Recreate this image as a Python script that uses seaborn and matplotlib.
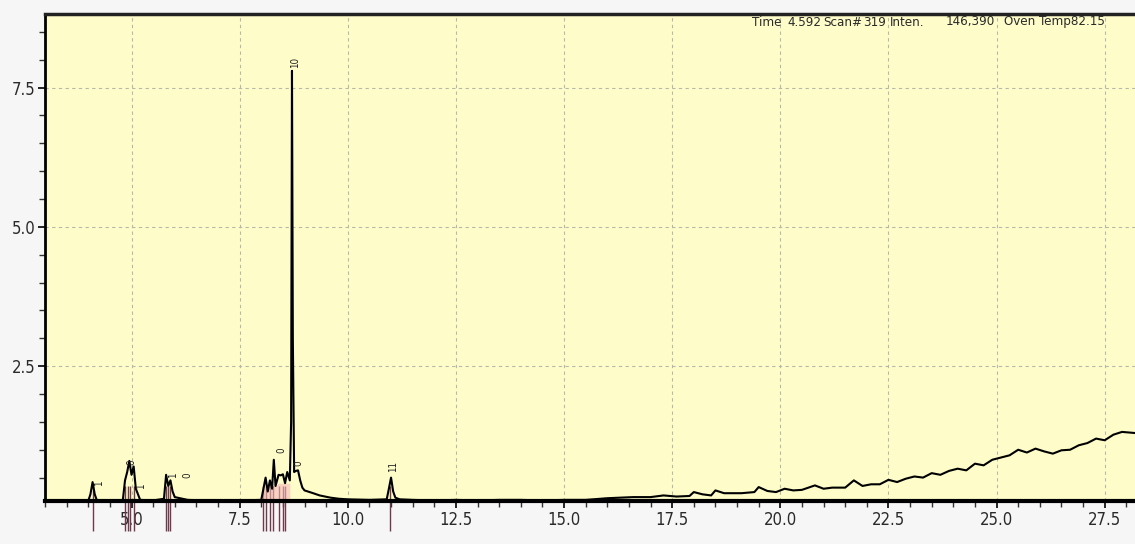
import matplotlib
matplotlib.use("Agg")
import matplotlib.pyplot as plt
import seaborn as sns
import pandas as pd
from matplotlib.ticker import MultipleLocator, FixedLocator

# ---------------- data ----------------
time_min = [3.0, 3.5, 4.0, 4.05, 4.1, 4.15, 4.2, 4.5, 4.8, 4.85, 4.9, 4.95, 5.0, 5.05, 5.1,
            5.15, 5.2, 5.5, 5.75, 5.8, 5.85, 5.9, 5.95, 6.0, 6.3, 7.0, 8.0, 8.05, 8.1, 8.15,
            8.2, 8.25, 8.29, 8.33, 8.4, 8.45, 8.5, 8.55, 8.6, 8.66, 8.69, 8.71, 8.73, 8.76,
            8.8, 8.85, 8.9, 8.95, 9.0, 9.2, 9.35, 9.6, 9.8, 10.0, 10.5, 10.9, 10.95, 11.0,
            11.05, 11.1, 11.2, 11.5, 12.0, 12.5, 13.0, 13.5, 14.0, 14.5, 15.0, 15.5, 16.0,
            16.3, 16.6, 17.0, 17.3, 17.6, 17.9, 18.0, 18.2, 18.4, 18.5, 18.7, 18.9, 19.1,
            19.4, 19.5, 19.7, 19.9, 20.1, 20.3, 20.5, 20.8, 21.0, 21.2, 21.5, 21.7, 21.9,
            22.1, 22.3, 22.5, 22.7, 22.9, 23.1, 23.3, 23.5, 23.7, 23.9, 24.1, 24.3, 24.5,
            24.7, 24.9, 25.1, 25.3, 25.5, 25.7, 25.9, 26.1, 26.3, 26.5, 26.7, 26.9, 27.1,
            27.3, 27.5, 27.7, 27.9, 28.2]
intensity = [0.08, 0.08, 0.08, 0.2, 0.42, 0.2, 0.09, 0.08, 0.1, 0.45, 0.6, 0.8, 0.55, 0.7, 0.3,
             0.2, 0.1, 0.09, 0.12, 0.55, 0.35, 0.45, 0.25, 0.15, 0.1, 0.08, 0.1, 0.3, 0.5, 0.25,
             0.45, 0.3, 0.82, 0.35, 0.55, 0.54, 0.56, 0.4, 0.6, 0.45, 1.5, 7.8, 3.0, 0.6,
             0.62, 0.63, 0.45, 0.32, 0.27, 0.22, 0.18, 0.14, 0.12, 0.11, 0.1, 0.11, 0.3, 0.5,
             0.25, 0.14, 0.11, 0.1, 0.09, 0.1, 0.09, 0.1, 0.1, 0.09, 0.1, 0.1, 0.13,
             0.14, 0.15, 0.15, 0.18, 0.16, 0.17, 0.24, 0.2, 0.18, 0.27, 0.22, 0.22, 0.22,
             0.24, 0.33, 0.26, 0.24, 0.3, 0.27, 0.28, 0.36, 0.3, 0.32, 0.32, 0.45, 0.35,
             0.38, 0.38, 0.46, 0.42, 0.48, 0.52, 0.5, 0.58, 0.55, 0.62, 0.66, 0.63, 0.75,
             0.72, 0.82, 0.86, 0.9, 1.0, 0.95, 1.02, 0.97, 0.93, 0.99, 1.0, 1.08, 1.12,
             1.2, 1.17, 1.27, 1.32, 1.3]

# peak label marks (rotated peak numbers) and integration drop marks
label_times = [4.26, 5.0, 5.23, 5.95, 6.3, 8.47, 8.85, 8.78, 11.05]
label_heights = [0.35, 0.72, 0.3, 0.5, 0.5, 0.95, 0.7, 7.85, 0.6]
label_texts = ["1", "0", "1", "1", "0", "0", "0", "10", "11"]
drop_times = [4.1, 4.85, 4.92, 4.97, 5.05, 5.8, 5.85, 5.9, 8.05, 8.1, 8.2, 8.28, 8.4, 8.5, 8.55, 10.97]

x_tick_labels = ["5.0", "7.5", "10.0", "12.5", "15.0", "17.5", "20.0", "22.5", "25.0", "27.5"]
y_tick_labels = ["2.5", "5.0", "7.5"]
header_items = ["Time", "4.592", "Scan#", "319", "Inten.", "146,390", "Oven Temp82.15"]

# ---------------- style ----------------
sns.set_theme(style="white")
plt.rcParams["font.family"] = ["DejaVu Sans"]
plt.rcParams["font.stretch"] = "condensed"

fig = plt.figure(figsize=(11.35, 5.44), dpi=100, facecolor="#f6f6f6")
ax = fig.add_axes([45 / 1135, 1 - 501 / 544, 1 - 45 / 1135, (501 - 14) / 544])
ax.set_facecolor("#fefdca")

df = pd.DataFrame({"time": time_min, "intensity": intensity})

# pink integration shading around the cluster near 8.0-8.6 min
sub = df[(df.time >= 8.0) & (df.time <= 8.66)]
ax.fill_between(sub.time, 0.0, sub.intensity.clip(upper=0.4), color="#f4b8b8", alpha=0.6, lw=0, zorder=2)

# drop marks below the baseline
ax.vlines(drop_times, -0.45, 0.35, colors="#6e3a4c", lw=1.0, clip_on=False, zorder=1)

sns.lineplot(data=df, x="time", y="intensity", ax=ax, color="black", lw=1.5,
             sort=False, estimator=None, zorder=3)

for t, h, s in zip(label_times, label_heights, label_texts):
    ax.text(t, h, s, rotation=90, fontsize=7, ha="center", va="bottom",
            color="#222222", zorder=4)

ax.set_xlim(3.0, 28.2)
ax.set_ylim(0.08, 8.82)

ax.xaxis.set_major_locator(FixedLocator([5.0 + 2.5 * i for i in range(len(x_tick_labels))]))
ax.set_xticklabels(x_tick_labels)
ax.xaxis.set_minor_locator(MultipleLocator(0.5))
ax.yaxis.set_major_locator(FixedLocator([2.5 * (i + 1) for i in range(len(y_tick_labels))]))
ax.set_yticklabels(y_tick_labels)
ax.yaxis.set_minor_locator(MultipleLocator(0.5))

ax.tick_params(axis="both", which="major", direction="out", length=5, width=1.2,
               color="black", labelsize=12, labelcolor="#2a2a2a", pad=2)
ax.tick_params(axis="both", which="minor", direction="out", length=4, width=1.0, color="#333333")
ax.tick_params(left=True, bottom=True, which="both")

ax.grid(True, which="major", color="#b8b8a8", lw=0.8, ls=(0, (3, 3)))
ax.set_xlabel("")
ax.set_ylabel("")

ax.spines["right"].set_visible(False)
ax.spines["left"].set_linewidth(2.0)
ax.spines["left"].set_color("black")
ax.spines["bottom"].set_linewidth(3.0)
ax.spines["bottom"].set_color("black")
ax.spines["top"].set_linewidth(2.5)
ax.spines["top"].set_color("#222222")

header_x = [752, 787, 823, 863, 890, 946, 1004]
for px, s in zip(header_x, header_items):
    fig.text(px / 1135, 1 - 22 / 544, s, fontsize=9.5, color="#2a2a2a", ha="left", va="center")

fig.savefig("out.png", dpi=100, facecolor=fig.get_facecolor())
